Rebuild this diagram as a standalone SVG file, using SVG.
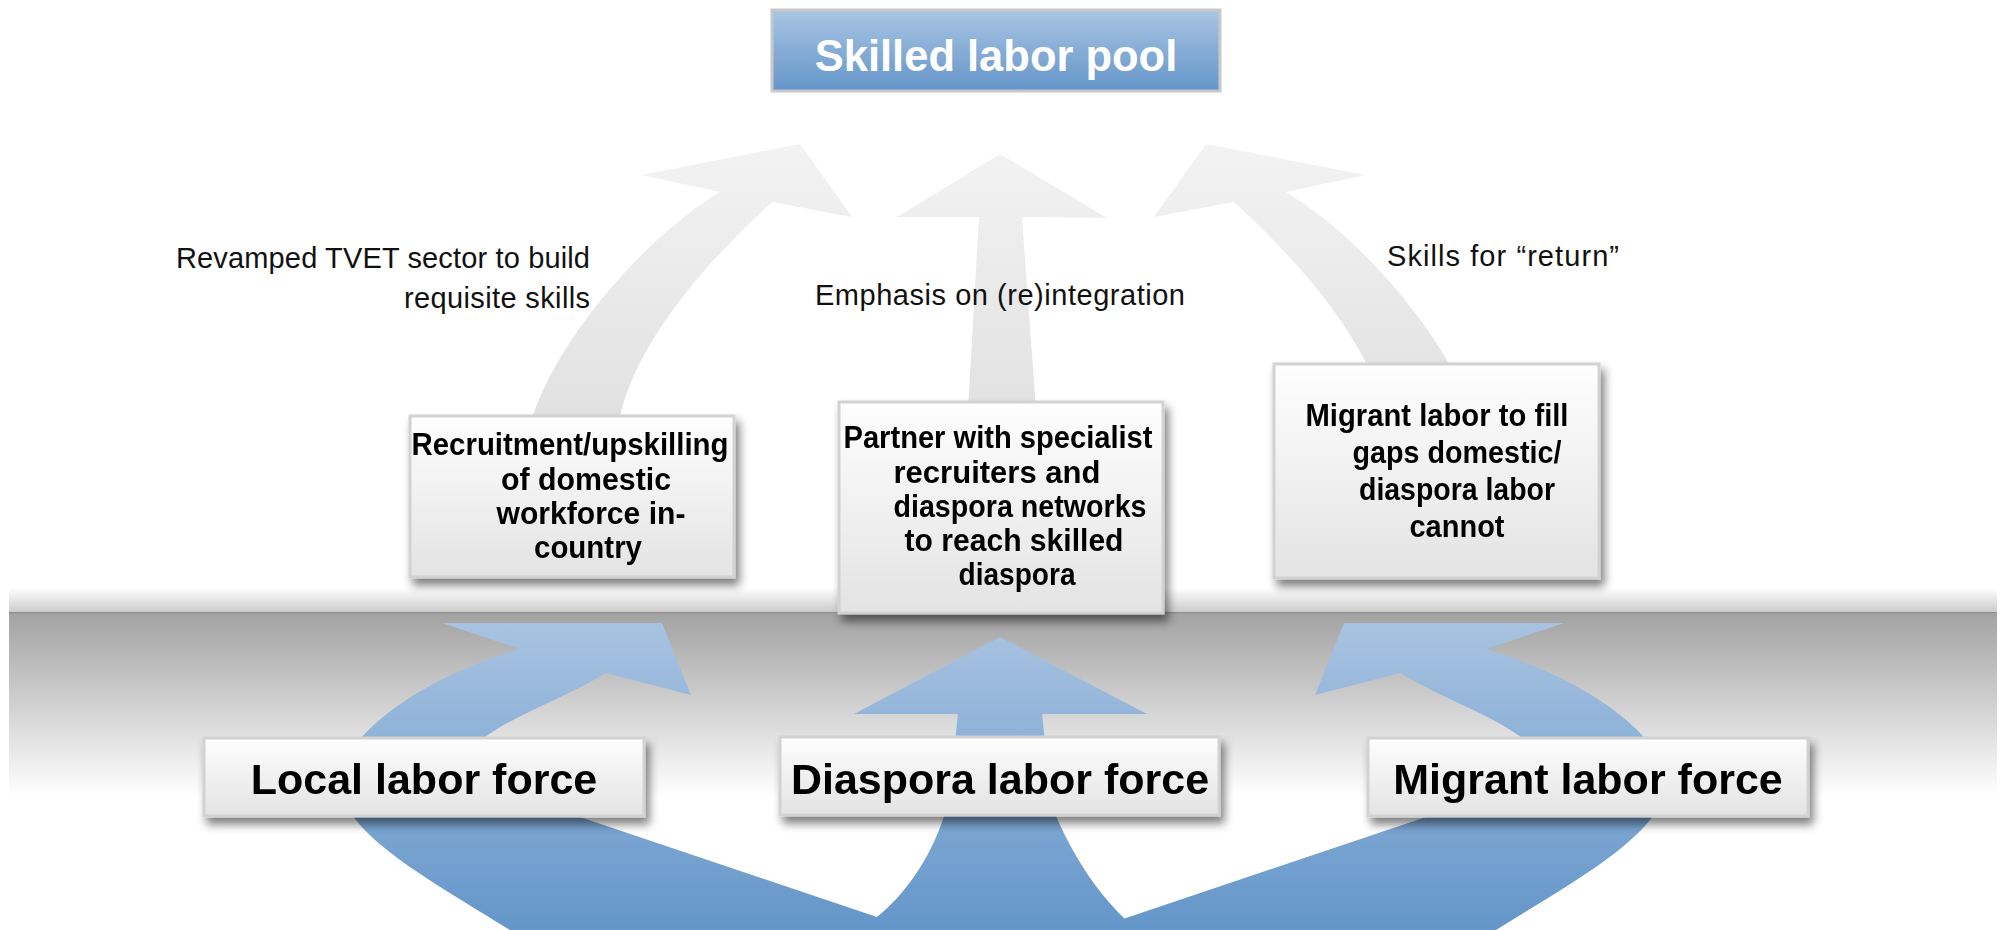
<svg xmlns="http://www.w3.org/2000/svg" width="2000" height="930" viewBox="0 0 2000 930">
<style>
.lbl{font-family:"Liberation Sans",Arial,sans-serif;font-size:29px;fill:#111}
.bx{font-family:"Liberation Sans",Arial,sans-serif;font-size:31px;font-weight:bold;fill:#000;text-anchor:middle}
.big{font-family:"Liberation Sans",Arial,sans-serif;font-size:43px;font-weight:bold;fill:#000;text-anchor:middle}
.card{fill:url(#cardG);stroke:#d2d2d2;stroke-width:3}
</style>
<defs>
<linearGradient id="cardG" x1="0" y1="0" x2="0" y2="1">
<stop offset="0" stop-color="#fefefe"/><stop offset="1" stop-color="#e3e3e3"/>
</linearGradient>
<linearGradient id="poolG" x1="0" y1="0" x2="0" y2="1">
<stop offset="0" stop-color="#a9c5e3"/><stop offset="1" stop-color="#6495c9"/>
</linearGradient>
<linearGradient id="grayG" gradientUnits="userSpaceOnUse" x1="0" y1="140" x2="0" y2="420">
<stop offset="0" stop-color="#f3f3f3"/><stop offset="1" stop-color="#e1e1e1"/>
</linearGradient>
<linearGradient id="blueG" gradientUnits="userSpaceOnUse" x1="0" y1="623" x2="0" y2="930">
<stop offset="0" stop-color="#a8c3e1"/><stop offset="1" stop-color="#6496c9"/>
</linearGradient>
<linearGradient id="bandTop" x1="0" y1="0" x2="0" y2="1">
<stop offset="0" stop-color="#ffffff"/><stop offset="1" stop-color="#c9c9c9"/>
</linearGradient>
<linearGradient id="floorG" x1="0" y1="0" x2="0" y2="1">
<stop offset="0" stop-color="#a3a3a3"/><stop offset="1" stop-color="#ffffff"/>
</linearGradient>
<filter id="sh" x="-10%" y="-10%" width="125%" height="135%">
<feGaussianBlur in="SourceAlpha" stdDeviation="5"/>
<feOffset dx="4" dy="7" result="o"/>
<feComponentTransfer><feFuncA type="linear" slope="0.5"/></feComponentTransfer>
<feMerge><feMergeNode/><feMergeNode in="SourceGraphic"/></feMerge>
</filter>
</defs>

<rect width="2000" height="930" fill="#ffffff"/>
<g id="floor">
<rect x="9" y="588" width="1988" height="25" fill="url(#bandTop)"/>
<rect x="9" y="614" width="1988" height="182" fill="url(#floorG)"/>
<line x1="9" y1="613" x2="1997" y2="613" stroke="#7c7c7c" stroke-width="1.5"/>
</g>

<g id="connectors">
<g id="gray-arrows" fill="url(#grayG)">
<path id="gray-left" d="M528,432 C548,350 640,240 720,192 L641,175 L800,144 L852,217 L772,202 C720,250 630,340 617,432 Z"/>
<path id="gray-center" d="M1000,154 L1107,218 L1022,217 L1036,410 L968,410 L979,217 L897,217 Z"/>
<path id="gray-right" transform="translate(2006,0) scale(-1,1)" d="M528,432 C548,350 640,240 720,192 L641,175 L800,144 L852,217 L772,202 C720,250 630,340 617,432 Z"/>
</g>
<g id="blue-arrows" fill="url(#blueG)">
<path id="blue-left" d="M442,623 L662,623 L691,695 L606,673 C560,700 515,715 485,737 C460,760 520,800 577,816 L877,917 L1010,962 L530,962 L510,930 C430,880 345,835 340,785 C338,740 415,680 520,649 Z"/>
<path id="blue-center" d="M1000,637 L1147,714 L1042,714 L1048,770 L1056,816 C1075,860 1100,895 1124,918 L1160,962 L845,962 L877,917 C904,895 930,860 944,816 L952,770 L958,714 L854,714 Z"/>
<path id="blue-right" transform="translate(2006,0) scale(-1,1)" d="M442,623 L662,623 L691,695 L606,673 C560,700 515,715 485,737 C460,760 520,800 577,816 L877,917 L1010,962 L530,962 L510,930 C430,880 345,835 340,785 C338,740 415,680 520,649 Z"/>
</g>
</g>

<g id="node-recruitment" filter="url(#sh)">
<rect class="card" x="410" y="416" width="324" height="161"/>
<text class="bx" x="570" y="455" textLength="317" lengthAdjust="spacingAndGlyphs">Recruitment/upskilling</text>
<text class="bx" x="586" y="490" textLength="170" lengthAdjust="spacingAndGlyphs">of domestic</text>
<text class="bx" x="591" y="524" textLength="189" lengthAdjust="spacingAndGlyphs">workforce in-</text>
<text class="bx" x="588" y="558" textLength="108" lengthAdjust="spacingAndGlyphs">country</text>
</g>

<g id="node-partner" filter="url(#sh)">
<rect class="card" x="839" y="402" width="324" height="211"/>
<text class="bx" x="998" y="448" textLength="309" lengthAdjust="spacingAndGlyphs">Partner with specialist</text>
<text class="bx" x="997" y="483" textLength="207" lengthAdjust="spacingAndGlyphs">recruiters and</text>
<text class="bx" x="1020" y="517" textLength="253" lengthAdjust="spacingAndGlyphs">diaspora networks</text>
<text class="bx" x="1014" y="551" textLength="219" lengthAdjust="spacingAndGlyphs">to reach skilled</text>
<text class="bx" x="1017" y="585" textLength="117" lengthAdjust="spacingAndGlyphs">diaspora</text>
</g>

<g id="node-migrant-fill" filter="url(#sh)">
<rect class="card" x="1274" y="364" width="325" height="214"/>
<text class="bx" x="1437" y="426" textLength="263" lengthAdjust="spacingAndGlyphs">Migrant labor to fill</text>
<text class="bx" x="1457" y="463" textLength="209" lengthAdjust="spacingAndGlyphs">gaps domestic/</text>
<text class="bx" x="1457" y="500" textLength="196" lengthAdjust="spacingAndGlyphs">diaspora labor</text>
<text class="bx" x="1457" y="537" textLength="95" lengthAdjust="spacingAndGlyphs">cannot</text>
</g>

<g id="node-local" filter="url(#sh)">
<rect class="card" x="204" y="738" width="440" height="78"/>
<text class="big" x="424" y="794">Local labor force</text>
</g>

<g id="node-diaspora" filter="url(#sh)">
<rect class="card" x="780" y="737" width="439" height="78"/>
<text class="big" x="1000" y="794">Diaspora labor force</text>
</g>

<g id="node-migrant" filter="url(#sh)">
<rect class="card" x="1368" y="738" width="440" height="78"/>
<text class="big" x="1588" y="794">Migrant labor force</text>
</g>

<g id="node-pool">
<rect x="772" y="10" width="448" height="81" fill="url(#poolG)" stroke="#c8c8c8" stroke-width="3"/>
<text x="996" y="71" font-family="Liberation Sans, Arial, sans-serif" font-size="43.5" font-weight="bold" fill="#ffffff" text-anchor="middle">Skilled labor pool</text>
</g>

<g id="labels">
<text class="lbl" x="590" y="268" text-anchor="end" textLength="414" lengthAdjust="spacing">Revamped TVET sector to build</text>
<text class="lbl" x="590" y="308" text-anchor="end" textLength="186" lengthAdjust="spacing">requisite skills</text>
<text class="lbl" x="1000" y="305" text-anchor="middle" textLength="370" lengthAdjust="spacing">Emphasis on (re)integration</text>
<text class="lbl" x="1387" y="266" textLength="232" lengthAdjust="spacing">Skills for “return”</text>
</g>
</svg>
